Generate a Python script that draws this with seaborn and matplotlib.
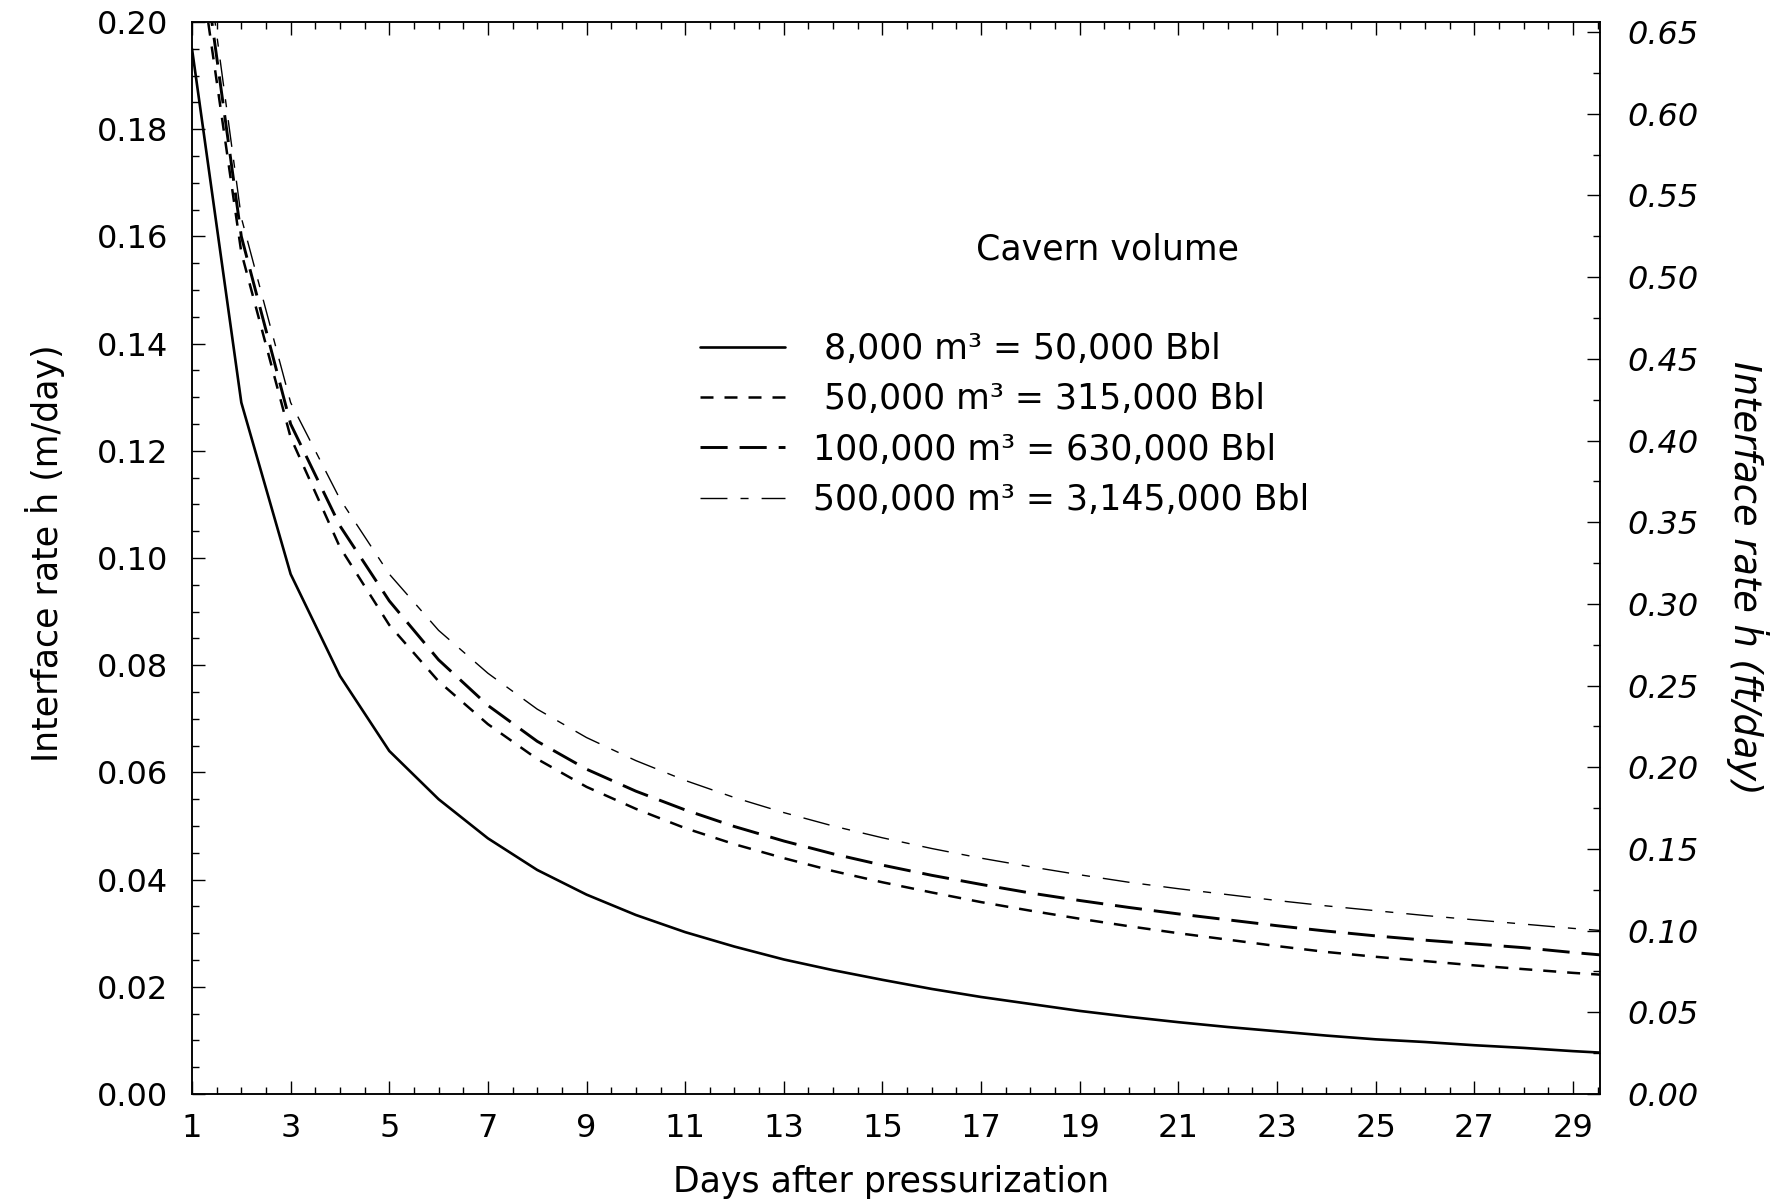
import numpy as np
import pandas as pd
import matplotlib
matplotlib.use("Agg")
import matplotlib.pyplot as plt
from matplotlib.ticker import MultipleLocator, FormatStrFormatter
import seaborn as sns

# ---------------- data ----------------
days = list(range(1, 31))
rate_8k = [0.195, 0.129, 0.097, 0.078, 0.064, 0.055, 0.0477, 0.0418, 0.0372, 0.0334,
           0.0302, 0.0275, 0.0251, 0.0231, 0.0213, 0.0196, 0.0181, 0.0168, 0.0155, 0.0144,
           0.0134, 0.0125, 0.0117, 0.0109, 0.0102, 0.0097, 0.0091, 0.0086, 0.0080, 0.0075]
rate_50k = [0.221, 0.157, 0.1225, 0.102, 0.0875, 0.077, 0.069, 0.0625, 0.0573, 0.0532,
            0.0496, 0.0466, 0.0440, 0.0416, 0.0395, 0.0376, 0.0358, 0.0342, 0.0327, 0.0313,
            0.0300, 0.0288, 0.0276, 0.0265, 0.0256, 0.0248, 0.0240, 0.0233, 0.0226, 0.0220]
rate_100k = [0.227, 0.160, 0.125, 0.106, 0.092, 0.081, 0.0725, 0.0658, 0.0606, 0.0565,
             0.0530, 0.0499, 0.0472, 0.0448, 0.0427, 0.0408, 0.0391, 0.0375, 0.0361, 0.0348,
             0.0336, 0.0325, 0.0314, 0.0304, 0.0295, 0.0287, 0.0280, 0.0273, 0.0264, 0.0256]
rate_500k = [0.232, 0.1635, 0.129, 0.111, 0.097, 0.0865, 0.0785, 0.0718, 0.0665, 0.0622,
             0.0585, 0.0553, 0.0525, 0.0500, 0.0478, 0.0458, 0.0440, 0.0424, 0.0409, 0.0395,
             0.0383, 0.0372, 0.0361, 0.0351, 0.0342, 0.0333, 0.0325, 0.0317, 0.0309, 0.0302]
series_labels = [" 8,000 m³ = 50,000 Bbl",
                 " 50,000 m³ = 315,000 Bbl",
                 "100,000 m³ = 630,000 Bbl",
                 "500,000 m³ = 3,145,000 Bbl"]
left_ticks = [0.00, 0.02, 0.04, 0.06, 0.08, 0.10, 0.12, 0.14, 0.16, 0.18, 0.20]
right_ticks = [0.00, 0.05, 0.10, 0.15, 0.20, 0.25, 0.30, 0.35, 0.40, 0.45, 0.50, 0.55, 0.60, 0.65]
x_ticks = list(range(1, 30, 2))
M_TO_FT = 3.28084

# ---------------- style ----------------
sns.set_style("ticks")
plt.rcParams["font.family"] = ["DejaVu Sans"]
plt.rcParams["axes.linewidth"] = 1.1
for key in ["text.color", "axes.labelcolor", "xtick.color", "ytick.color",
            "axes.edgecolor", "xtick.labelcolor", "ytick.labelcolor"]:
    plt.rcParams[key] = "black"

W, H = 1779, 1204
fig = plt.figure(figsize=(W / 100, H / 100), dpi=100)
L, R, T, B = 192, 1600, 22, 1094
ax = fig.add_axes([L / W, 1 - B / H, (R - L) / W, (B - T) / H])

styles = [
    dict(lw=1.9, linestyle="-"),
    dict(lw=1.8, linestyle=(0, (5.2, 4.4))),
    dict(lw=2.1, linestyle=(0, (9.3, 4.1))),
    dict(lw=1.0, linestyle=(0, (19.4, 9.4, 5.8, 9.4))),
]
all_series = [rate_8k, rate_50k, rate_100k, rate_500k]
for vals, lab, st in zip(all_series, series_labels, styles):
    df = pd.DataFrame({"day": days, "rate": vals})
    sns.lineplot(data=df, x="day", y="rate", ax=ax, color="black",
                 errorbar=None, label=lab, **st)
handles = ax.get_lines()[:4]
if ax.get_legend() is not None:
    ax.get_legend().remove()

ax.set_xlim(1, 29.55)
ax.set_ylim(0, 0.20)
ax.set_xticks(x_ticks)
ax.xaxis.set_minor_locator(MultipleLocator(0.5))
ax.set_yticks(left_ticks)
ax.yaxis.set_minor_locator(MultipleLocator(0.005))
ax.yaxis.set_major_formatter(FormatStrFormatter("%.2f"))

ax.tick_params(axis="both", which="both", direction="in", top=True, right=False,
               color="black", labelcolor="black", width=1.0)
ax.tick_params(axis="both", which="major", length=9.5)
ax.tick_params(axis="both", which="minor", length=5)
ax.tick_params(axis="y", which="major", labelsize=23, pad=17)
ax.tick_params(axis="x", which="major", labelsize=23, pad=14)
for sp in ax.spines.values():
    sp.set_visible(True)
    sp.set_color("black")

ax.set_xlabel("Days after pressurization", fontsize=25, color="black")
ax.xaxis.set_label_coords((891 - L) / (R - L), (B - 1182) / (B - T))
ax.xaxis.label.set_verticalalignment("center")
ax.set_ylabel("Interface rate ḣ (m/day)", fontsize=25, color="black")
ax.yaxis.set_label_coords((45 - L) / (R - L), (B - 553) / (B - T))
ax.yaxis.label.set_verticalalignment("center")

# right axis in ft/day
ax2 = ax.twinx()
ax2.set_ylim(0, 0.20 * M_TO_FT)
ax2.set_yticks(right_ticks)
ax2.yaxis.set_minor_locator(MultipleLocator(0.025))
ax2.yaxis.set_major_formatter(FormatStrFormatter("%.2f"))
ax2.tick_params(axis="y", which="both", direction="in", right=True, left=False,
                color="black", labelcolor="black", width=1.0)
ax2.tick_params(axis="y", which="major", length=9.5, labelsize=23, pad=20)
ax2.tick_params(axis="y", which="minor", length=5)
for lbl in ax2.get_yticklabels():
    lbl.set_fontstyle("italic")
ax2.set_ylabel("Interface rate ḣ (ft/day)", fontsize=26.5, fontstyle="italic",
               rotation=-90, color="black")
ax2.yaxis.set_label_coords((1747 - L) / (R - L), (B - 578) / (B - T))
ax2.yaxis.label.set_verticalalignment("center")
ax2.yaxis.label.set_horizontalalignment("center")
for sp in ax2.spines.values():
    sp.set_color("black")

# legend
fig.text(1108 / W, 1 - 249 / H, "Cavern volume", fontsize=25, ha="center",
         va="center", color="black")
leg = ax.legend(handles, series_labels, loc="upper left",
                bbox_to_anchor=(700 / W, 1 - 332 / H), bbox_transform=fig.transFigure,
                frameon=False, borderpad=0, borderaxespad=0, handlelength=2.45,
                handletextpad=0.8, labelspacing=0.47, fontsize=25)
for t in leg.get_texts():
    t.set_color("black")

fig.savefig("out.png", dpi=100, facecolor="white")
